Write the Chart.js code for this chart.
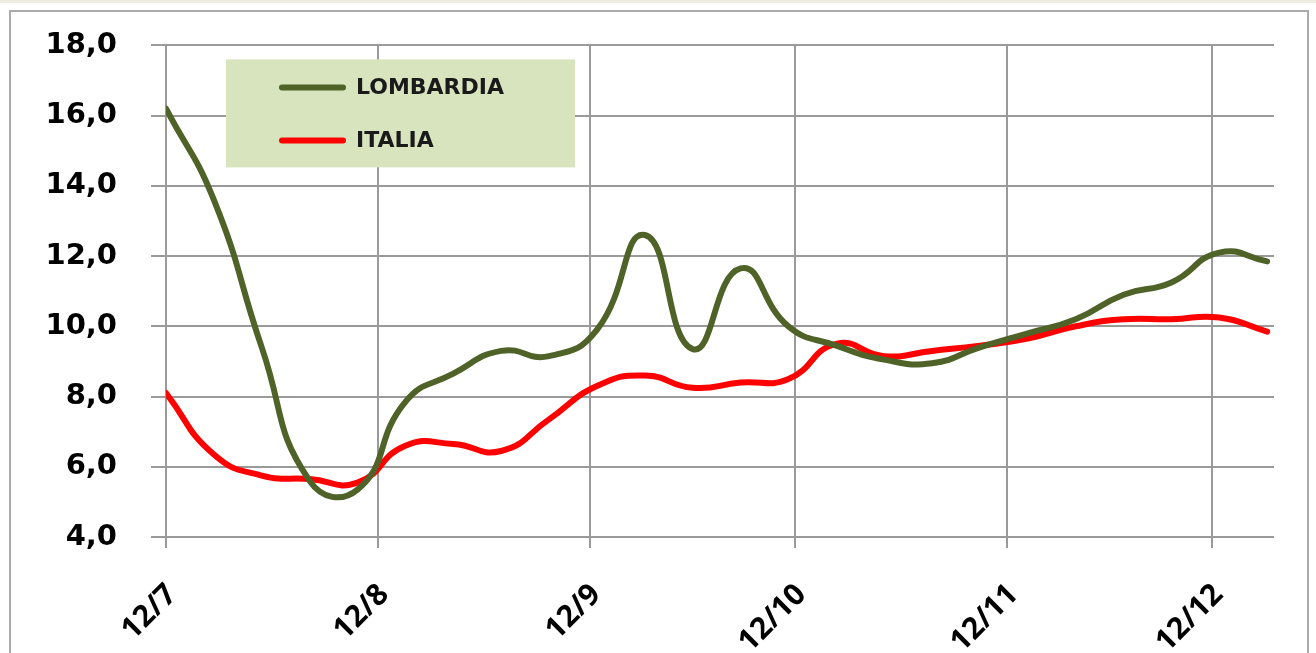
<!DOCTYPE html>
<html>
<head>
<meta charset="utf-8">
<script src="https://cdn.jsdelivr.net/npm/chart.js@4"></script>
<style>
  html, body { margin: 0; padding: 0; background: #fff; }
  #wrap { position: relative; width: 1316px; height: 653px; overflow: hidden; }
  #topband { position: absolute; left: 0; top: 0; width: 1316px; height: 3px; background: #eeebe1; }
  #frame { position: absolute; left: 9px; top: 10px; width: 1296px; height: 700px; border: 2px solid #ababab; }
  #chart { position: absolute; left: 0; top: -6px; }
</style>
</head>
<body>
<div id="wrap">
  <div id="topband"></div>
  <div id="frame"></div>
  <canvas id="chart" width="1316" height="659"></canvas>
</div>
<script>
// weekly samples, days since 12/7
const dayOffsets = [0, 7, 14, 21, 28, 35, 42, 49, 56, 63, 70, 77, 84, 91, 98, 105, 112, 119, 126, 133, 140, 147, 154, 161];

const lombardia = [16.2, 13.6, 9.4, 5.6, 5.35, 7.85, 8.65, 9.3, 9.15, 9.9, 12.6, 9.35, 11.65, 10.0, 9.45, 9.05, 8.95, 9.4, 9.8, 10.2, 10.9, 11.25, 12.1, 11.85];
const italia = [8.1, 6.35, 5.75, 5.65, 5.55, 6.6, 6.65, 6.45, 7.35, 8.3, 8.6, 8.25, 8.4, 8.5, 9.5, 9.15, 9.3, 9.45, 9.65, 10.0, 10.2, 10.2, 10.25, 9.85];

// month ticks (days since 12/7) and their labels
const monthTicks = [0, 31, 62, 92, 123, 153];
const monthLabels = ["12/7", "12/8", "12/9", "12/10", "12/11", "12/12"];

const toPoints = (values) => values.map((v, i) => ({ x: dayOffsets[i], y: v }));

// legend drawn inside the plot, on a green box
const boxLegend = {
  id: "boxLegend",
  afterDraw(chart) {
    const ctx = chart.ctx;
    const top = chart.chartArea.top;
    ctx.save();
    ctx.fillStyle = "#d7e4bd";
    ctx.fillRect(226, top + 14, 349, 108);
    chart.data.datasets.forEach((ds, i) => {
      const y = top + 42 + i * 53;
      ctx.strokeStyle = ds.borderColor;
      ctx.lineWidth = 6;
      ctx.lineCap = "round";
      ctx.beginPath();
      ctx.moveTo(282, y);
      ctx.lineTo(343, y);
      ctx.stroke();
      ctx.fillStyle = "#1a1a1a";
      ctx.font = "bold 22px 'DejaVu Sans'";
      ctx.textBaseline = "middle";
      ctx.fillText(ds.label, 356, y + 1);
    });
    ctx.restore();
  },
};

const ctx = document.getElementById("chart").getContext("2d");

new Chart(ctx, {
  type: "line",
  data: {
    datasets: [
      {
        label: "LOMBARDIA",
        data: toPoints(lombardia),
        borderColor: "#4f6228",
        borderWidth: 6,
        borderCapStyle: "round",
        pointRadius: 0,
        tension: 0.5,
        fill: false,
      },
      {
        label: "ITALIA",
        data: toPoints(italia),
        borderColor: "#ff0000",
        borderWidth: 6,
        borderCapStyle: "round",
        pointRadius: 0,
        tension: 0.5,
        fill: false,
      },
    ],
  },
  options: {
    responsive: false,
    animation: false,
    devicePixelRatio: 1,
    layout: { padding: { top: 44, right: 42, left: 0, bottom: 0 } },
    plugins: {
      legend: { display: false },
      tooltip: { enabled: false },
    },
    scales: {
      x: {
        type: "linear",
        min: 0,
        max: 162,
        afterBuildTicks: (scale) => {
          scale.ticks = monthTicks.map((v) => ({ value: v }));
        },
        afterFit: (scale) => {
          scale.height = 116;
        },
        grid: {
          color: "#9a9a9a",
          lineWidth: 2,
          tickLength: 11,
        },
        border: { display: false },
        ticks: {
          autoSkip: false,
          minRotation: 45,
          maxRotation: 45,
          padding: 29,
          labelOffset: 6,
          color: "#000",
          font: { family: "'Open Sans'", size: 30, weight: "bold" },
          callback: (value) => monthLabels[monthTicks.indexOf(value)],
        },
      },
      y: {
        min: 4,
        max: 18,
        afterFit: (scale) => {
          scale.width = 166;
        },
        grid: {
          color: "#9a9a9a",
          lineWidth: 2,
          tickLength: 15,
        },
        border: { display: false },
        ticks: {
          stepSize: 2,
          padding: 34,
          color: "#000",
          font: { family: "'DejaVu Sans'", size: 29, weight: "bold" },
          callback: (value) => value.toFixed(1).replace(".", ","),
        },
      },
    },
  },
  plugins: [boxLegend],
});
</script>
</body>
</html>
